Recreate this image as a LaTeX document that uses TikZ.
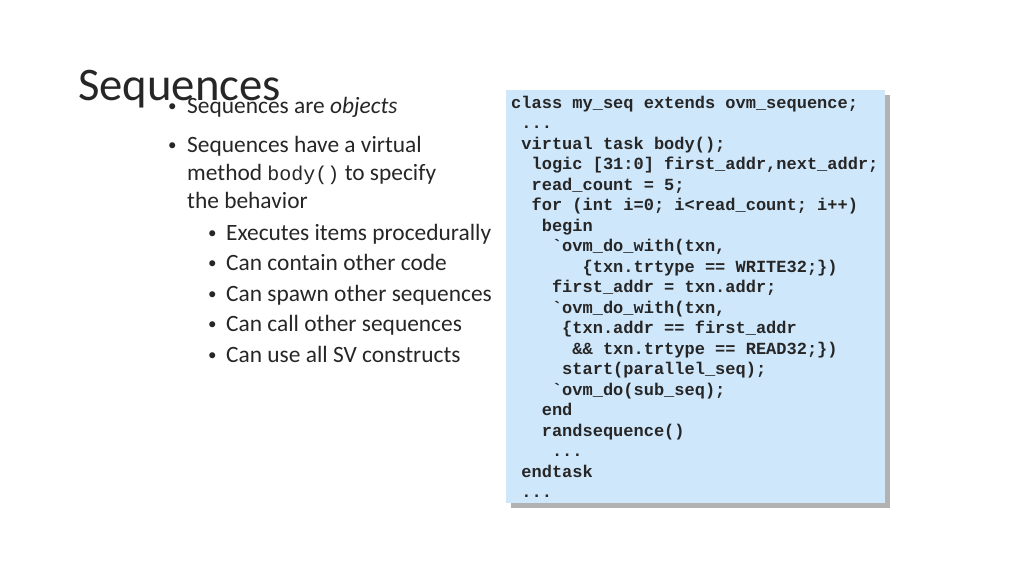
\documentclass[tikz,border=0pt]{standalone}
\usepackage{fontspec}
\setmainfont{Carlito}
\setmonofont{Liberation Mono}
\definecolor{codebg}{RGB}{207,231,251}
\definecolor{txt}{RGB}{38,38,38}
\begin{document}
\begin{tikzpicture}[x=1pt,y=-1pt,
  code/.style={anchor=base west,inner sep=0pt,font=\fontsize{17}{20}\selectfont\ttfamily\bfseries,text=txt},
  bul/.style={anchor=base west,inner sep=0pt,font=\fontsize{23.4}{26}\selectfont,text=txt},
  dot/.style={anchor=base west,inner sep=0pt,font=\fontsize{17}{20}\selectfont,text=txt}]
\useasboundingbox (0,0) rectangle (1024,576);
\fill[gray!60] (511,95) rectangle (890,508);
\fill[codebg] (506,90) rectangle (885,503);
\node[anchor=base west,inner sep=0pt,font=\fontsize{46.7}{50}\selectfont,text=txt] (title) at (78,100) {Sequences};
\foreach \y [count=\i] in {111,150}{\node[dot] (b\i) at (168,\y) {\textbullet};}
\node[bul] (l1) at (187,113) {Sequences are \textit{objects}};
\node[bul] (l2) at (187,152) {Sequences have a virtual};
\node[bul] (l3) at (187,180) {method {\ttfamily\fontsize{20}{22}\selectfont body()} to specify};
\node[bul] (l4) at (187,208) {the behavior};
\foreach \t/\y [count=\i] in {Executes items procedurally/240,Can contain other code/270,Can spawn other sequences/301,Can call other sequences/331,Can use all SV constructs/362}{
  \node[dot] (sb\i) at (208,\y-2) {\textbullet};
  \node[bul] (s\i) at (226,\y) {\t};}
\foreach \ind/\t [count=\i from 0] in {
 0/{class my\_seq extends ovm\_sequence;},
 1/{...},
 1/{virtual task body();},
 2/{logic [31:0] first\_addr,next\_addr;},
 2/{read\_count = 5;},
 2/{for (int i=0; i<read\_count; i++)},
 3/{begin},
 4/{`ovm\_do\_with(txn,},
 7/{\{txn.trtype == WRITE32;\})},
 4/{first\_addr = txn.addr;},
 4/{`ovm\_do\_with(txn,},
 5/{\{txn.addr == first\_addr},
 6/{\&\& txn.trtype == READ32;\})},
 5/{start(parallel\_seq);},
 4/{`ovm\_do(sub\_seq);},
 3/{end},
 3/{randsequence()},
 4/{...},
 1/{endtask},
 1/{...}}{
  \node[code] (c\i) at ({511+\ind*10.2},{108+\i*20.5}) {\t};}
\end{tikzpicture}
\end{document}
